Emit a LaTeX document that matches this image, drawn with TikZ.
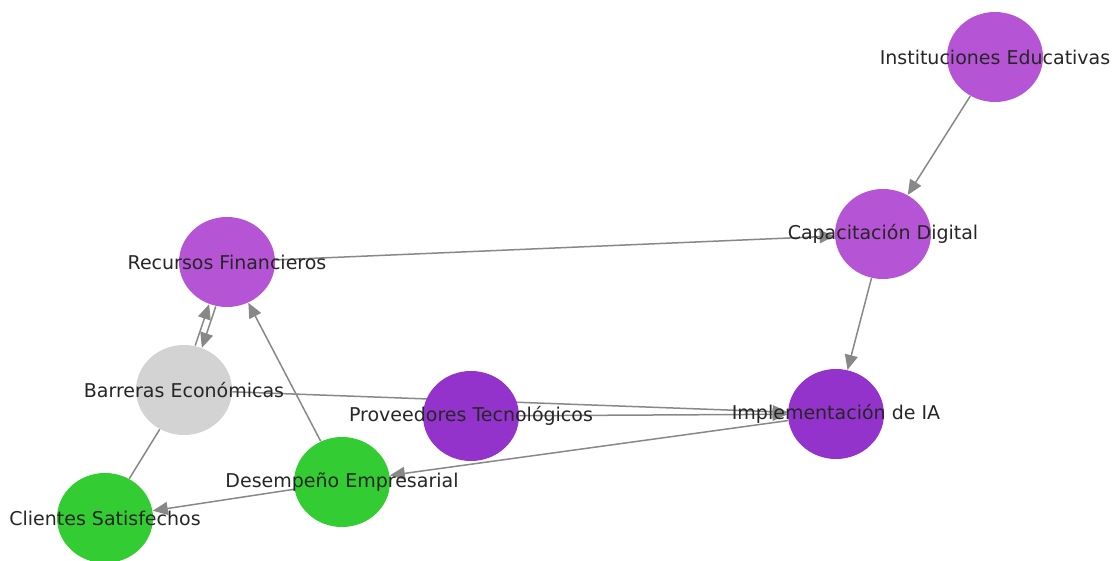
\documentclass[tikz,border=0pt]{standalone}
\usepackage{fontspec}
\setmainfont{DejaVu Sans}
\usepackage{xcolor}
\usepackage{tikz}
\usetikzlibrary{arrows.meta}
\usetikzlibrary{shapes.geometric}
\usetikzlibrary{backgrounds}
\definecolor{orchidA}{HTML}{B654D6}
\definecolor{orchidB}{HTML}{9433CC}
\definecolor{limeA}{HTML}{33CC33}
\definecolor{greyA}{HTML}{D3D3D3}
\definecolor{linkA}{HTML}{888888}
\tikzset{
    actor/.style={
           ellipse,
           minimum width=48pt,
           minimum height=45pt,
           inner sep=0pt,
           text=black!85,
           font=\fontsize{9.5}{11}\selectfont,
           },
    link/.style={
           color=linkA,
           line width=0.75pt,
           },
    headed/.style={
           -{Triangle[length=7.5pt,width=6.5pt,color=linkA,fill=linkA]},
           },
}
\usepackage{tikz-cd}
\tikzset{
  shift left/.style ={commutative diagrams/shift left={#1}},
  shift right/.style={commutative diagrams/shift right={#1}}
}
\newcommand{\lbl}[1]{\makebox[0pt]{#1}}

\begin{document}
\begin{tikzpicture}[x=0.5pt, y=-0.5pt]
	\useasboundingbox (0,0) rectangle (1116,561);

	\node[actor, fill=orchidA] (inst) at (995,57) {\lbl{Instituciones Educativas}};
	\node[actor, fill=orchidA] (capa) at (883,234) {\lbl{Capacitación Digital}};
	\node[actor, fill=orchidA] (recu) at (227,262) {\lbl{Recursos Financieros}};
	\node[actor, fill=greyA] (barr) at (184,390) {\lbl{Barreras Económicas}};
	\node[actor, fill=orchidB] (prov) at (471,416) {\lbl{Proveedores Tecnológicos}};
	\node[actor, fill=orchidB] (impl) at (836,414) {\lbl{Implementación de IA}};
	\node[actor, fill=limeA] (dese) at (342,482) {\lbl{Desempeño Empresarial}};
	\node[actor, fill=limeA] (clie) at (105,518) {\lbl{Clientes Satisfechos}};

	\begin{scope}[on background layer]
	\path[link, headed]	(inst) edge (capa)
				(recu) edge (capa)
				(capa) edge (impl)
				(dese) edge (recu)
				(barr) edge (impl)
				(prov) edge (impl)
				(impl) edge (dese)
				(dese) edge (clie);
	\path[link]		(clie) edge (barr);

	\path[link, headed, shift left=1.75pt]	(barr) edge (recu);
	\path[link, headed, shift left=1.75pt]	(recu) edge (barr);
	\end{scope}

\end{tikzpicture}
\end{document}
